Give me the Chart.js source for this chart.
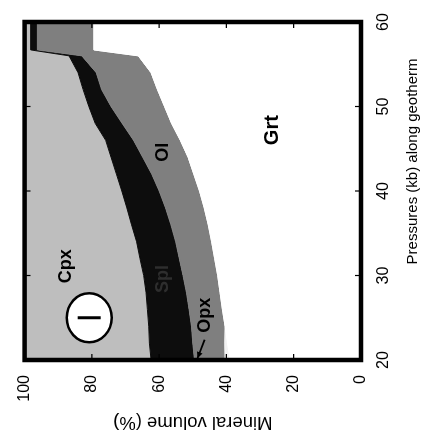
<!DOCTYPE html>
<html><head><meta charset="utf-8">
<script src="https://cdn.jsdelivr.net/npm/chart.js@4.4.1/dist/chart.umd.min.js"></script>
<style>
html,body{margin:0;padding:0;background:#fff;overflow:hidden;width:436px;height:438px;}
#wrap{position:absolute;left:0;top:0;width:438px;height:436px;transform-origin:0 0;transform:translateY(438px) rotate(-90deg);}
</style></head><body>
<div id="wrap"><canvas id="c" width="438" height="436"></canvas></div>
<script>
// Pressure (kb) along the geotherm
const pressures = [20,22,24,26,28,30,32,34,36,38,40,42,44,46,48,50,52,54,56,56.7,60];
// Mineral volume (%) of each phase, stacked from 0 upward
const grt = [38.9,39.7,40.4,41.2,41.9,42.6,43.5,44.4,45.4,46.6,48.0,49.7,51.4,53.7,56.3,58.4,60.5,62.4,66.2,79.4,79.4];
const opx = [1.5,0.8,0,0,0,0,0,0,0,0,0,0,0,0,0,0,0,0,0,0,0];
const ol  = [9.1,9.5,10.0,9.9,10.0,10.3,10.5,10.7,11.1,11.5,12.0,12.5,13.5,13.9,14.7,15.9,16.6,16.3,16.8,16.8,16.8];
const spl = [12.9,12.9,12.7,12.4,12.0,11.7,11.7,11.6,11.7,11.5,11.1,10.5,9.4,8.3,8.0,6.6,5.5,5.4,3.8,2.0,2.0];
const cpx = [37.6,37.1,36.9,36.5,36.1,35.4,34.3,33.3,31.8,30.4,28.9,27.3,25.7,24.1,21.0,19.1,17.4,15.9,13.2,1.8,1.8];
const pressureTicks = [20,30,40,50,60];
const volumeTicks = [0,20,40,60,80,100];
const mineralNames = ['Grt','Opx','Ol','Spl','Cpx'];

const FONT = '"Liberation Sans", Arial, Helvetica, sans-serif';
const fills = ['#ffffff','#f2f2f2','#7f7f7f','#0d0d0d','#bebebe'];
const series = [grt, opx, ol, spl, cpx];

const datasets = series.map((vals, k) => ({
  label: mineralNames[k],
  data: pressures.map((p, i) => ({x: p, y: vals[i]})),
  backgroundColor: fills[k],
  borderColor: fills[k],
  borderWidth: 1,
  pointRadius: 0,
  tension: 0,
  fill: k === 0 ? 'origin' : '-1'
}));

// annotation placement (data coordinates)
const notes = [
  {text:'Cpx', p:31.1, v:87.7, size:18, color:'#000'},
  {text:'Spl', p:29.6, v:58.9, size:18, color:'#2e2e2e'},
  {text:'Ol',  p:44.6, v:58.9, size:18, color:'#000'},
  {text:'Grt', p:47.2, v:26.3, size:20, color:'#000'},
  {text:'Opx', p:25.3, v:46.3, size:18, color:'#000'}
];
const circleNote = {p:25.0, v:80.8};
const arrowNote = {p0:22.4, v0:46.5, p1:20.2, v1:48.6};
const xTitle = {text:'Pressures (kb) along geotherm', p:43.5};

const decor = {
  id:'decor',
  afterDatasetsDraw(chart){
    const ctx = chart.ctx, xs = chart.scales.x, ys = chart.scales.y, a = chart.chartArea;
    ctx.save();
    // labels
    ctx.textAlign = 'center'; ctx.textBaseline = 'middle';
    notes.forEach(n => {
      ctx.font = 'bold ' + n.size + 'px ' + FONT;
      ctx.fillStyle = n.color;
      ctx.fillText(n.text, xs.getPixelForValue(n.p), ys.getPixelForValue(n.v));
    });
    // circle with sign
    const cx = xs.getPixelForValue(circleNote.p), cy = ys.getPixelForValue(circleNote.v);
    ctx.beginPath(); ctx.ellipse(cx, cy, 24.5, 22.5, 0, 0, Math.PI*2);
    ctx.fillStyle = '#fff'; ctx.fill();
    ctx.lineWidth = 2.5; ctx.strokeStyle = '#000'; ctx.stroke();
    ctx.beginPath(); ctx.moveTo(cx, cy - 11.5); ctx.lineTo(cx, cy + 11.5);
    ctx.lineWidth = 3; ctx.stroke();
    // arrow for Opx
    const x0 = xs.getPixelForValue(arrowNote.p0), y0 = ys.getPixelForValue(arrowNote.v0);
    const x1 = xs.getPixelForValue(arrowNote.p1), y1 = ys.getPixelForValue(arrowNote.v1);
    ctx.beginPath(); ctx.moveTo(x0, y0); ctx.lineTo(x1, y1); ctx.lineWidth = 1.8; ctx.stroke();
    const ang = Math.atan2(y1 - y0, x1 - x0), L = 7;
    ctx.beginPath(); ctx.moveTo(x1, y1);
    ctx.lineTo(x1 - L*Math.cos(ang - 0.45), y1 - L*Math.sin(ang - 0.45));
    ctx.lineTo(x1 - L*Math.cos(ang + 0.45), y1 - L*Math.sin(ang + 0.45));
    ctx.closePath(); ctx.fillStyle = '#000'; ctx.fill();
    // inward ticks
    ctx.lineWidth = 1.2; ctx.strokeStyle = '#000';
    pressureTicks.forEach(p => {
      const x = xs.getPixelForValue(p);
      ctx.beginPath(); ctx.moveTo(x, a.bottom); ctx.lineTo(x, a.bottom - 6);
      ctx.moveTo(x, a.top); ctx.lineTo(x, a.top + 6); ctx.stroke();
    });
    volumeTicks.forEach(v => {
      const y = ys.getPixelForValue(v);
      ctx.beginPath(); ctx.moveTo(a.left, y); ctx.lineTo(a.left + 6, y);
      ctx.moveTo(a.right, y); ctx.lineTo(a.right - 6, y); ctx.stroke();
    });
    // frame
    ctx.lineWidth = 4.5; ctx.strokeRect(a.left, a.top, a.right - a.left, a.bottom - a.top);
    // x-axis title
    ctx.font = '15px ' + FONT; ctx.fillStyle = '#000';
    ctx.textAlign = 'center'; ctx.textBaseline = 'alphabetic';
    ctx.fillText(xTitle.text, xs.getPixelForValue(xTitle.p), a.bottom + 56);
    ctx.restore();
  }
};

new Chart(document.getElementById('c'), {
  type: 'line',
  data: {datasets},
  options: {
    responsive: false, animation: false, devicePixelRatio: 1,
    layout: {padding: {top: 20, right: 22, left: 0, bottom: 0}},
    plugins: {legend: {display: false}, tooltip: {enabled: false}},
    scales: {
      x: {type: 'linear', min: 20, max: 60, position: 'bottom',
          grid: {display: false, drawTicks: false}, border: {display: false},
          ticks: {stepSize: 10, padding: 13, color: '#000', maxRotation: 0, font: {family: FONT, size: 16}},
          afterFit(s){ s.height = 75; }},
      y: {stacked: true, min: 0, max: 100,
          grid: {display: false, drawTicks: false}, border: {display: false},
          ticks: {stepSize: 20, padding: 15, color: '#000', font: {family: FONT, size: 16}},
          title: {display: true, text: 'Mineral volume (%)', color: '#000', font: {family: FONT, size: 18.5}, padding: {top: 5, bottom: 0}},
          afterFit(s){ s.width = 78; }}
    }
  },
  plugins: [decor]
});
</script>
</body></html>
